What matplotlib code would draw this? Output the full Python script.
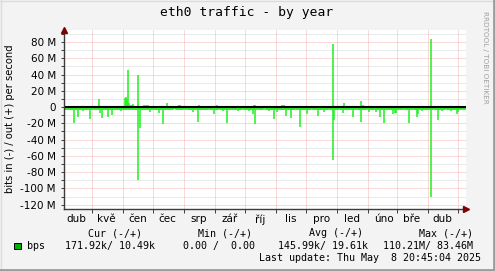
import numpy as np
import matplotlib
matplotlib.use("Agg")
import matplotlib.pyplot as plt
from matplotlib.lines import Line2D
from matplotlib.patches import Rectangle
from datetime import datetime

# time window of the yearly graph (400 days ending at last update)
start = datetime(2024, 4, 3, 20, 45, 4)
n_days = 400

month_labels = ['dub', 'kvě', 'čen', 'čec', 'srp', 'zář', 'říj', 'lis',
                'pro', 'led', 'úno', 'bře', 'dub']

# outgoing traffic (Mbit/s), day offset -> value; other days ~ out_base
out_days = [34, 60, 61, 62, 63, 64, 66, 67, 68, 73, 79, 81, 83, 102, 114, 115,
            134, 152, 189, 190, 216, 218, 267, 278, 295, 297, 365]
out_vals = [10, 11, 12, 10, 46, 5, 3, 3, 4, 40, 2, 2, 2, 5, 3, 3,
            3, 2, 3, 3, 2, 2, 77, 5, 7, 3, 84]
out_base = 1.0

# incoming traffic (Mbit/s, drawn negative), day offset -> value
in_days = [3, 6, 9, 13, 18, 25, 28, 35, 37, 43, 47, 52, 56, 73, 75, 85, 89, 94,
           98, 102, 109, 110, 119, 122, 128, 133, 139, 144, 149, 154, 158, 162,
           168, 173, 178, 184, 188, 190, 193, 198, 203, 208, 211, 220, 225, 230,
           234, 241, 246, 252, 258, 263, 267, 268, 273, 277, 283, 287, 291, 295,
           301, 303, 308, 309, 310, 313, 314, 318, 320, 322, 327, 329, 330, 333,
           338, 343, 347, 351, 352, 356, 361, 365, 368, 372, 376, 380, 385, 391,
           392, 397]
in_vals = [4, 4, 20, 12, 5, 15, 3, 7, 14, 12, 10, 4, 5, 90, 26, 6, 4, 7,
           21, 4, 3, 3, 3, 3, 6, 18, 4, 3, 8, 3, 5, 19,
           4, 5, 3, 5, 8, 21, 3, 3, 5, 15, 6, 11, 14, 3,
           24, 8, 3, 11, 6, 3, 65, 16, 3, 7, 4, 12, 3, 18,
           3, 6, 4, 4, 6, 4, 12, 20, 4, 4, 8, 7, 7, 4,
           3, 19, 3, 12, 8, 5, 4, 110, 3, 16, 5, 3, 5, 8,
           6, 3]
in_base = 3.2

out_series = np.full(n_days, out_base)
out_series[out_days] = out_vals
in_series = np.full(n_days, in_base)
in_series[in_days] = in_vals
days = np.arange(n_days)

W, H = 495, 271
def fx(x):
    return x / W
def fy(y):
    return 1 - y / H

fig = plt.figure(figsize=(W / 100, H / 100), dpi=100)
fig.patch.set_facecolor('#f3f3f3')

ax = fig.add_axes([fx(64.3), fy(208.7), (465.7 - 64.3) / W, (208.7 - 29.8) / H])
ax.set_facecolor('white')

green = '#1ef01e'
ax.vlines(days + 0.5, 0, out_series, colors=green, linewidth=1.1, zorder=2)
ax.vlines(days + 0.5, 0, -in_series, colors=green, linewidth=1.1, zorder=2)
ax.axhline(0, color='black', linewidth=1.5, zorder=3)

ax.set_xlim(0, n_days)
ax.set_ylim(-125, 95)

# grid
dots = (0, (1, 1))
for v in range(-120, 91, 10):
    c = '#f4b4b4' if v % 20 == 0 else '#d6d6d6'
    ax.axhline(v, color=c, linewidth=0.72, linestyle=dots, zorder=1)

month_starts = []
for y, m in [(2024, 5), (2024, 6), (2024, 7), (2024, 8), (2024, 9), (2024, 10),
             (2024, 11), (2024, 12), (2025, 1), (2025, 2), (2025, 3), (2025, 4),
             (2025, 5)]:
    month_starts.append((datetime(y, m, 1) - start).total_seconds() / 86400)
label_pos = []
for y, m in [(2024, 4), (2024, 5), (2024, 6), (2024, 7), (2024, 8), (2024, 9),
             (2024, 10), (2024, 11), (2024, 12), (2025, 1), (2025, 2), (2025, 3),
             (2025, 4)]:
    label_pos.append((datetime(y, m, 16) - start).total_seconds() / 86400)

for d in month_starts:
    ax.axvline(d, color='#f4b4b4', linewidth=0.72, linestyle=dots, zorder=1)

ax.set_xticks(month_starts)
ax.set_xticklabels([])
ax.set_xticks(label_pos, minor=True)
ax.set_xticklabels(month_labels, minor=True)
ax.tick_params(axis='x', which='major', length=3, width=0.7, color='#3c3c3c')
ax.tick_params(axis='x', which='minor', length=0, pad=4, labelsize=7.5)

yt = list(range(-120, 81, 20))
ax.set_yticks(yt)
ax.set_yticklabels(['0' if v == 0 else f'{v} M' for v in yt])
ax.set_yticks(list(range(-120, 91, 10)), minor=True)
ax.tick_params(axis='y', which='both', length=2, width=0.7, color='#3c3c3c',
               labelsize=7.5, pad=4)

for s in ['top', 'right']:
    ax.spines[s].set_visible(False)
for s in ['left', 'bottom']:
    ax.spines[s].set_color('#3c3c3c')
    ax.spines[s].set_linewidth(1.0)
    ax.spines[s].set_zorder(4)

# arrows on axes
ax.plot([0], [1.0], marker='^', color='#7f0000', markersize=4.5, transform=ax.transAxes,
        clip_on=False, zorder=5)
ax.plot([1.0], [0], marker='>', color='#7f0000', markersize=4.5, transform=ax.transAxes,
        clip_on=False, zorder=5)

# texts
mono = 'DejaVu Sans Mono'
fig.text(fx(246.5), fy(16), 'eth0 traffic - by year', family=mono, fontsize=9.4,
         ha='center', va='baseline')
fig.text(fx(10.5), fy(119), 'bits in (-) / out (+) per second', fontsize=7.2,
         rotation=90, ha='center', va='center')
fig.text(fx(485.5), fy(57), 'RRDTOOL / TOBI OETIKER', fontsize=5.2, color='#a0a0a0',
         rotation=270, ha='center', va='center')

for x, s in [(88.3, 'Cur (-/+)'), (198.3, 'Min (-/+)'), (309, 'Avg (-/+)'),
             (419, 'Max (-/+)')]:
    fig.text(fx(x), fy(236), s, family=mono, fontsize=7.2, va='baseline')
for x, s in [(26.7, 'bps'), (65, '171.92k/ 10.49k'), (183.3, '0.00 /  0.00'),
             (277.7, '145.99k/ 19.61k'), (383.3, '110.21M/ 83.46M')]:
    fig.text(fx(x), fy(249), s, family=mono, fontsize=7.2, va='baseline')
fig.text(fx(259.3), fy(261), 'Last update: Thu May  8 20:45:04 2025', family=mono,
         fontsize=7.2, va='baseline')

fig.add_artist(Rectangle((fx(13.5), fy(249)), 7 / W, 6.5 / H, transform=fig.transFigure,
                         facecolor='#00b000', edgecolor='black', linewidth=0.7))

# 3d frame of the image
fig.add_artist(Line2D([0, 1], [fy(0.5), fy(0.5)], transform=fig.transFigure,
                      color='#dcdcdc', linewidth=1))
fig.add_artist(Line2D([fx(0.5), fx(0.5)], [0, 1], transform=fig.transFigure,
                      color='#dcdcdc', linewidth=1))
fig.add_artist(Line2D([0, 1], [fy(270), fy(270)], transform=fig.transFigure,
                      color='#9c9c9c', linewidth=2))
fig.add_artist(Line2D([fx(494), fx(494)], [0, 1], transform=fig.transFigure,
                      color='#9c9c9c', linewidth=2))

fig.savefig('out.png', dpi=100, facecolor=fig.get_facecolor())
